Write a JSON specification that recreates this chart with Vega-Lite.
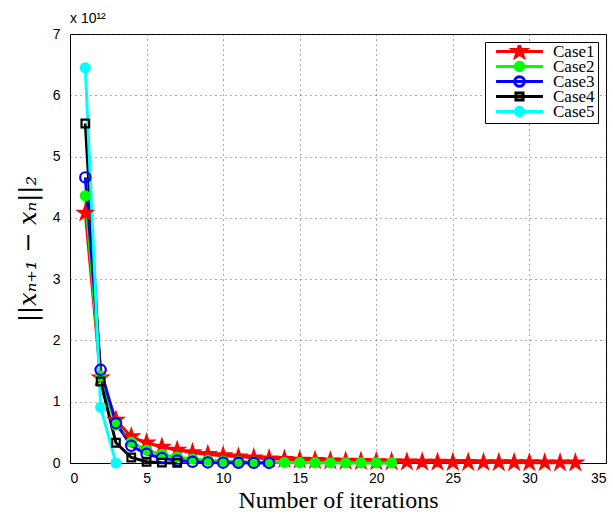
{
  "$schema": "https://vega.github.io/schema/vega-lite/v6.json",
  "width": 536,
  "height": 429,
  "autosize": {"type": "none"},
  "padding": {"left": 70, "top": 34, "right": 7, "bottom": 55},
  "background": "white",
  "title": {"text": "x 10¹²", "anchor": "start", "frame": "group", "font": "Liberation Sans", "fontSize": 14, "fontWeight": "normal", "color": "black", "offset": 1},
  "config": {
    "view": {"stroke": "black", "strokeWidth": 1},
    "axis": {
      "domainColor": "black", "labelColor": "black", "titleColor": "black",
      "labelFont": "Liberation Sans", "labelFontSize": 14,
      "gridColor": "#333", "gridDash": [1, 4], "gridOpacity": 0.8,
      "ticks": false
    }
  },
  "data": {"values": [
    {"case": "Case1", "iter": 1, "value": 4.08e12},
    {"case": "Case1", "iter": 2, "value": 1.39e12},
    {"case": "Case1", "iter": 3, "value": 0.70e12},
    {"case": "Case1", "iter": 4, "value": 0.43e12},
    {"case": "Case1", "iter": 5, "value": 0.33e12},
    {"case": "Case1", "iter": 6, "value": 0.26e12},
    {"case": "Case1", "iter": 7, "value": 0.21e12},
    {"case": "Case1", "iter": 8, "value": 0.17e12},
    {"case": "Case1", "iter": 9, "value": 0.14e12},
    {"case": "Case1", "iter": 10, "value": 0.12e12},
    {"case": "Case1", "iter": 11, "value": 0.10e12},
    {"case": "Case1", "iter": 12, "value": 0.085e12},
    {"case": "Case1", "iter": 13, "value": 0.07e12},
    {"case": "Case1", "iter": 14, "value": 0.06e12},
    {"case": "Case1", "iter": 15, "value": 0.05e12},
    {"case": "Case1", "iter": 16, "value": 0.043e12},
    {"case": "Case1", "iter": 17, "value": 0.037e12},
    {"case": "Case1", "iter": 18, "value": 0.032e12},
    {"case": "Case1", "iter": 19, "value": 0.028e12},
    {"case": "Case1", "iter": 20, "value": 0.024e12},
    {"case": "Case1", "iter": 21, "value": 0.021e12},
    {"case": "Case1", "iter": 22, "value": 0.018e12},
    {"case": "Case1", "iter": 23, "value": 0.016e12},
    {"case": "Case1", "iter": 24, "value": 0.014e12},
    {"case": "Case1", "iter": 25, "value": 0.012e12},
    {"case": "Case1", "iter": 26, "value": 0.011e12},
    {"case": "Case1", "iter": 27, "value": 0.009e12},
    {"case": "Case1", "iter": 28, "value": 0.008e12},
    {"case": "Case1", "iter": 29, "value": 0.007e12},
    {"case": "Case1", "iter": 30, "value": 0.006e12},
    {"case": "Case1", "iter": 31, "value": 0.005e12},
    {"case": "Case1", "iter": 32, "value": 0.0045e12},
    {"case": "Case1", "iter": 33, "value": 0.004e12},
    {"case": "Case2", "iter": 1, "value": 4.36e12},
    {"case": "Case2", "iter": 2, "value": 1.42e12},
    {"case": "Case2", "iter": 3, "value": 0.62e12},
    {"case": "Case2", "iter": 4, "value": 0.34e12},
    {"case": "Case2", "iter": 5, "value": 0.21e12},
    {"case": "Case2", "iter": 6, "value": 0.14e12},
    {"case": "Case2", "iter": 7, "value": 0.095e12},
    {"case": "Case2", "iter": 8, "value": 0.065e12},
    {"case": "Case2", "iter": 9, "value": 0.045e12},
    {"case": "Case2", "iter": 10, "value": 0.032e12},
    {"case": "Case2", "iter": 11, "value": 0.023e12},
    {"case": "Case2", "iter": 12, "value": 0.017e12},
    {"case": "Case2", "iter": 13, "value": 0.012e12},
    {"case": "Case2", "iter": 14, "value": 0.009e12},
    {"case": "Case2", "iter": 15, "value": 0.007e12},
    {"case": "Case2", "iter": 16, "value": 0.005e12},
    {"case": "Case2", "iter": 17, "value": 0.004e12},
    {"case": "Case2", "iter": 18, "value": 0.003e12},
    {"case": "Case2", "iter": 19, "value": 0.002e12},
    {"case": "Case2", "iter": 20, "value": 0.0015e12},
    {"case": "Case2", "iter": 21, "value": 0.001e12},
    {"case": "Case3", "iter": 1, "value": 4.66e12},
    {"case": "Case3", "iter": 2, "value": 1.52e12},
    {"case": "Case3", "iter": 3, "value": 0.65e12},
    {"case": "Case3", "iter": 4, "value": 0.28e12},
    {"case": "Case3", "iter": 5, "value": 0.15e12},
    {"case": "Case3", "iter": 6, "value": 0.08e12},
    {"case": "Case3", "iter": 7, "value": 0.04e12},
    {"case": "Case3", "iter": 8, "value": 0.02e12},
    {"case": "Case3", "iter": 9, "value": 0.01e12},
    {"case": "Case3", "iter": 10, "value": 0.006e12},
    {"case": "Case3", "iter": 11, "value": 0.003e12},
    {"case": "Case3", "iter": 12, "value": 0.002e12},
    {"case": "Case3", "iter": 13, "value": 0.001e12},
    {"case": "Case4", "iter": 1, "value": 5.54e12},
    {"case": "Case4", "iter": 2, "value": 1.33e12},
    {"case": "Case4", "iter": 3, "value": 0.33e12},
    {"case": "Case4", "iter": 4, "value": 0.09e12},
    {"case": "Case4", "iter": 5, "value": 0.02e12},
    {"case": "Case4", "iter": 6, "value": 0.006e12},
    {"case": "Case4", "iter": 7, "value": 0.002e12},
    {"case": "Case5", "iter": 1, "value": 6.45e12},
    {"case": "Case5", "iter": 2, "value": 0.91e12},
    {"case": "Case5", "iter": 3, "value": 0.0}
  ]},
  "encoding": {
    "x": {"field": "iter", "type": "quantitative",
      "scale": {"domain": [0, 35], "nice": false, "zero": false},
      "axis": {"values": [0, 5, 10, 15, 20, 25, 30, 35], "title": "Number of iterations",
        "titleFont": "Liberation Serif", "titleFontSize": 24, "titleFontWeight": "normal", "labelPadding": 8, "titlePadding": 3}},
    "y": {"field": "value", "type": "quantitative",
      "scale": {"domain": [0, 7e12], "nice": false},
      "axis": {"values": [0, 1e12, 2e12, 3e12, 4e12, 5e12, 6e12, 7e12], "labelExpr": "format(datum.value / 1e12, 'd')",
        "title": "||xₙ₊₁ − xₙ||₂", "titleFont": "DejaVu Serif", "titleFontSize": 24, "titleFontWeight": "normal", "titleFontStyle": "italic", "labelPadding": 10, "titlePadding": 12}}
  },
  "layer": [
    {
      "mark": {"type": "line", "strokeWidth": 3},
      "encoding": {
        "color": {"field": "case", "type": "nominal", "legend": null,
          "scale": {"domain": ["Case1", "Case2", "Case3", "Case4", "Case5"], "range": ["#ff0000", "#00ff00", "#0000ff", "#000000", "#00ffff"]}}
      }
    },
    {
      "mark": {"type": "point", "size": 80, "strokeWidth": 2.2, "opacity": 1},
      "encoding": {
        "stroke": {"field": "case", "type": "nominal", "legend": null,
          "scale": {"domain": ["Case1", "Case2", "Case3", "Case4", "Case5"], "range": ["#ff0000", "#00ff00", "#0000ff", "#000000", "#00ffff"]}},
        "fill": {"field": "case", "type": "nominal", "legend": null,
          "scale": {"domain": ["Case1", "Case2", "Case3", "Case4", "Case5"], "range": ["#ff0000", "#00ff00", "transparent", "transparent", "#00ffff"]}},
        "shape": {"field": "case", "type": "nominal", "legend": null,
          "scale": {"domain": ["Case1", "Case2", "Case3", "Case4", "Case5"], "range": [
            "M0,-1.6L0.36,-0.494L1.522,-0.494L0.581,0.189L0.941,1.294L0,0.611L-0.941,1.294L-0.581,0.189L-1.522,-0.494L-0.36,-0.494Z",
            "M1,0A1,1,0,1,1,-1,0A1,1,0,1,1,1,0Z",
            "M1.15,0A1.15,1.15,0,1,1,-1.15,0A1.15,1.15,0,1,1,1.15,0Z",
            "M-0.85,-0.85H0.85V0.85H-0.85Z",
            "M1,0A1,1,0,1,1,-1,0A1,1,0,1,1,1,0Z"
          ]}}
      }
    },
    {
      "transform": [{"filter": "datum.iter < 0"}],
      "mark": {"type": "point", "size": 80, "strokeWidth": 3, "opacity": 1},
      "encoding": {
        "stroke": {"field": "case", "type": "nominal",
          "scale": {"domain": ["Case1", "Case2", "Case3", "Case4", "Case5"], "range": ["#ff0000", "#00ff00", "#0000ff", "#000000", "#00ffff"]},
          "legend": {"title": null, "orient": "top-right", "offset": 8, "strokeColor": "black", "fillColor": "white", "padding": 3,
            "labelFont": "Liberation Serif", "labelFontSize": 17, "labelColor": "black", "clipHeight": 13, "rowPadding": -10,
            "symbolOffset": 23, "labelOffset": 25, "symbolSize": 70, "symbolStrokeWidth": 3}},
        "fill": {"field": "case", "type": "nominal",
          "scale": {"domain": ["Case1", "Case2", "Case3", "Case4", "Case5"], "range": ["#ff0000", "#00ff00", "transparent", "transparent", "#00ffff"]},
          "legend": {"title": null, "orient": "top-right", "offset": 8}},
        "shape": {"field": "case", "type": "nominal",
          "scale": {"domain": ["Case1", "Case2", "Case3", "Case4", "Case5"], "range": [
            "M-5.6,0H5.6M0,-1.6L0.36,-0.494L1.522,-0.494L0.581,0.189L0.941,1.294L0,0.611L-0.941,1.294L-0.581,0.189L-1.522,-0.494L-0.36,-0.494Z",
            "M-5.6,0H5.6M1,0A1,1,0,1,1,-1,0A1,1,0,1,1,1,0Z",
            "M-5.6,0H5.6M1.15,0A1.15,1.15,0,1,1,-1.15,0A1.15,1.15,0,1,1,1.15,0Z",
            "M-5.6,0H5.6M-0.85,-0.85H0.85V0.85H-0.85Z",
            "M-5.6,0H5.6M1,0A1,1,0,1,1,-1,0A1,1,0,1,1,1,0Z"
          ]},
          "legend": {"title": null, "orient": "top-right", "offset": 8}}
      }
    }
  ],
  "resolve": {"scale": {"color": "independent", "stroke": "independent", "fill": "independent", "shape": "independent"}}
}
